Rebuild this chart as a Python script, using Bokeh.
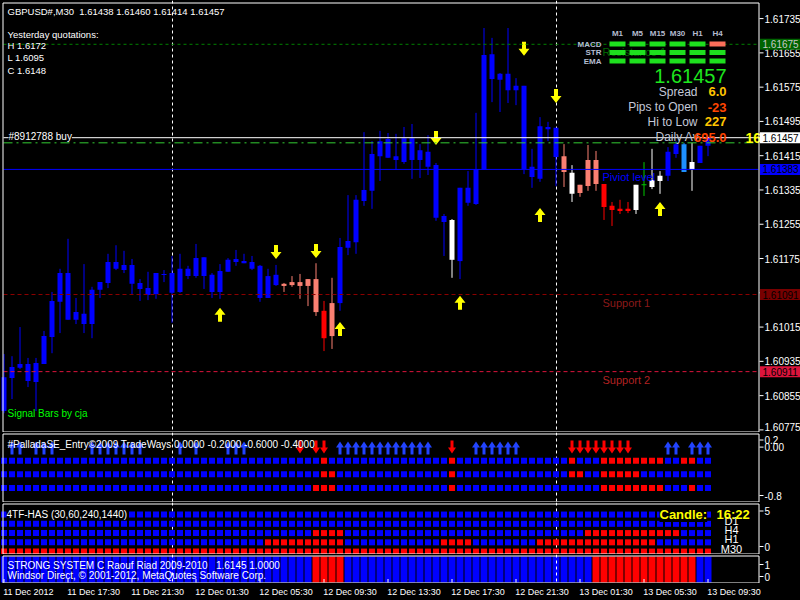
import numpy as np
from bokeh.plotting import figure
from bokeh.models import Range1d, Label, ColumnDataSource
from bokeh.layouts import column
from bokeh.core.properties import value
from bokeh.embed import file_html
from bokeh.resources import INLINE

FONT = "Liberation Sans"

# ------------------------------------------------------------------ data
header_text = "GBPUSD#,M30\u00a0\u00a01.61438 1.61460 1.61414 1.61457"
yesterday_lines = ["Yesterday quotations:", "H 1.6172", "L 1.6095", "C 1.6148"]

# GBPUSD M30 candles, 11 Dec 2012 13:30 .. 13 Dec 2012 09:30
opens = [1.60819, 1.60896, 1.60920, 1.60929, 1.60887, 1.60929, 1.60992, 1.61074, 1.61141, 1.61032,
         1.61046, 1.61022, 1.61102, 1.61118, 1.61167, 1.61148, 1.61160, 1.61118, 1.61106, 1.61092,
         1.61137, 1.61141, 1.61097, 1.61151, 1.61134, 1.61178, 1.61137, 1.61097, 1.61144, 1.61167,
         1.61169, 1.61167, 1.61158, 1.61083, 1.61137, 1.61111, 1.61113, 1.61120, 1.61111, 1.61127,
         1.61053, 1.60994, 1.61071, 1.61200, 1.61213, 1.61309, 1.61333, 1.61414, 1.61454, 1.61414,
         1.61400, 1.61456, 1.61405, 1.61424, 1.61393, 1.61274, 1.61265, 1.61169, 1.61340, 1.61302,
         1.61382, 1.61652, 1.61592, 1.61606, 1.61568, 1.61578, 1.61389, 1.61361, 1.61482, 1.61480,
         1.61414, 1.61375, 1.61328, 1.61344, 1.61405, 1.61349, 1.61298, 1.61291, 1.61286, 1.61288,
         1.61347, 1.61342, 1.61356, 1.61368, 1.61419, 1.61442, 1.61382, 1.61398, 1.61438]
highs = [1.60952, 1.60947, 1.61015, 1.60943, 1.60943, 1.61006, 1.61097, 1.61151, 1.61221, 1.61083,
         1.61162, 1.61109, 1.61120, 1.61186, 1.61206, 1.61193, 1.61174, 1.61127, 1.61144, 1.61141,
         1.61148, 1.61181, 1.61186, 1.61158, 1.61209, 1.61178, 1.61141, 1.61162, 1.61176, 1.61195,
         1.61186, 1.61181, 1.61160, 1.61151, 1.61160, 1.61118, 1.61134, 1.61139, 1.61127, 1.61164,
         1.61076, 1.61130, 1.61223, 1.61323, 1.61323, 1.61470, 1.61449, 1.61473, 1.61468, 1.61466,
         1.61482, 1.61489, 1.61442, 1.61463, 1.61398, 1.61279, 1.61267, 1.61340, 1.61379, 1.61515,
         1.61713, 1.61690, 1.61608, 1.61713, 1.61596, 1.61578, 1.61431, 1.61505, 1.61494, 1.61480,
         1.61442, 1.61393, 1.61347, 1.61440, 1.61426, 1.61349, 1.61307, 1.61312, 1.61307, 1.61347,
         1.61400, 1.61431, 1.61379, 1.61435, 1.61449, 1.61445, 1.61445, 1.61438, 1.61460]
lows = [1.60814, 1.60847, 1.60917, 1.60875, 1.60819, 1.60929, 1.60954, 1.61001, 1.61032, 1.61022,
        1.61001, 1.60989, 1.61083, 1.61106, 1.61148, 1.61141, 1.61092, 1.61076, 1.61078, 1.61081,
        1.61120, 1.61025, 1.61095, 1.61127, 1.61130, 1.61104, 1.61083, 1.61081, 1.61144, 1.61158,
        1.61164, 1.61148, 1.61074, 1.61083, 1.61111, 1.61097, 1.61109, 1.61081, 1.61064, 1.61041,
        1.60959, 1.60964, 1.61053, 1.61183, 1.61186, 1.61298, 1.61291, 1.61356, 1.61410, 1.61382,
        1.61396, 1.61361, 1.61363, 1.61370, 1.61263, 1.61181, 1.61130, 1.61127, 1.61298, 1.61300,
        1.61382, 1.61540, 1.61517, 1.61538, 1.61533, 1.61372, 1.61340, 1.61354, 1.61449, 1.61344,
        1.61342, 1.61307, 1.61319, 1.61333, 1.61333, 1.61265, 1.61251, 1.61279, 1.61281, 1.61279,
        1.61321, 1.61337, 1.61326, 1.61356, 1.61410, 1.61377, 1.61333, 1.61398, 1.61414]
closes = [1.60898, 1.60922, 1.60929, 1.60889, 1.60931, 1.60994, 1.61076, 1.61141, 1.61032, 1.61050,
          1.61022, 1.61102, 1.61120, 1.61167, 1.61151, 1.61160, 1.61116, 1.61104, 1.61090, 1.61141,
          1.61139, 1.61095, 1.61151, 1.61134, 1.61176, 1.61134, 1.61097, 1.61146, 1.61172, 1.61174,
          1.61164, 1.61151, 1.61083, 1.61134, 1.61113, 1.61116, 1.61120, 1.61111, 1.61127, 1.61050,
          1.60989, 1.61071, 1.61202, 1.61216, 1.61312, 1.61335, 1.61419, 1.61449, 1.61410, 1.61405,
          1.61456, 1.61405, 1.61428, 1.61389, 1.61270, 1.61260, 1.61172, 1.61340, 1.61305, 1.61384,
          1.61650, 1.61594, 1.61606, 1.61568, 1.61578, 1.61384, 1.61365, 1.61484, 1.61477, 1.61412,
          1.61377, 1.61326, 1.61347, 1.61405, 1.61349, 1.61295, 1.61288, 1.61286, 1.61291, 1.61347,
          1.61347, 1.61358, 1.61368, 1.61424, 1.61442, 1.61377, 1.61400, 1.61438, 1.61457]

# Signal Bars colouring per candle: U=trend up, S=weak, R=down, W=neutral, G=doji, L=strong
signal_bars = ("U" * 35 + "SSSSS" + "R" + "S" + "U" * 14 + "W" + "U" * 13 +
               "S" + "W" + "SSS" + "RRRR" + "W" + "G" + "WW" + "UU" + "L" + "W" + "UU")
signal_colors = {"U": "#0000FF", "S": "#FA8072", "R": "#FF0000",
                 "W": "#FFFFFF", "G": "#00C800", "L": "#1E90FF"}

# yellow signal arrows (bar index, arrow tip price)
up_arrow_bars = [27, 42, 57, 67, 82]
up_arrow_tips = [1.61060, 1.61027, 1.61088, 1.61293, 1.61307]
down_arrow_bars = [34, 39, 54, 65, 69]
down_arrow_tips = [1.61174, 1.61176, 1.61440, 1.61648, 1.61538]

# horizontal price levels
level_names = ["Resistance 1", "Piviot level", "Support 1", "Support 2"]
level_prices = [1.61675, 1.61383, 1.61091, 1.60911]
bid_price = 1.61457
order_price = 1.61445
order_label = "#8912788 buy"

# dashboard
dash_timeframes = ["M1", "M5", "M15", "M30", "H1", "H4"]
dash_rows = ["MACD", "STR", "EMA"]
dash_states = [[1, 1, 1, 1, 1, 0],
               [1, 1, 1, 1, 1, 1],
               [1, 1, 1, 1, 1, 1]]
spread = 6.0
pips_to_open = -23
hi_to_low = 227
daily_avg = 695.0
candle_timer = "16:22"

# PalladaSE_Entry
pallada_up_bars = [1, 2, 4, 5, 6, 11, 12, 13, 14, 15, 16, 17, 22, 24, 28, 29, 30,
                   42, 43, 44, 45, 46, 47, 48, 49, 50, 51, 52, 53,
                   59, 60, 61, 62, 63, 64, 83, 84, 86, 87, 88]
pallada_down_bars = [37, 39, 40, 56, 71, 72, 73, 74, 75, 76, 77, 78]
pallada_levels = [-0.2, -0.4, -0.6]
pallada_red = [[40, 56, 71, 75, 76, 77, 78, 79, 80, 81, 82, 85, 86],
               [40, 41, 56, 71, 72, 75, 76, 77, 78, 79],
               [39, 40, 41, 56, 75, 76, 77, 78, 79, 80, 81, 82, 86]]

# 4TF-HAS rows (top to bottom)
has_levels = [4, 3, 2, 1, 0]
has_red = [[],
           [],
           [39, 40, 41, 42, 73, 74, 75, 76, 77, 78, 79, 80, 81, 82, 83, 84],
           [33, 34, 35, 36, 37, 38, 39, 40, 41, 42, 55, 56, 57, 58,
            67, 68, 69, 70, 71, 72, 73, 74, 75, 76, 77, 78, 79, 80, 81],
           list(range(89))]
has_tf_labels = ["D1", "H4", "H1", "M30"]

# STRONG SYSTEM state bars (red = short)
strong_red = [39, 40, 41, 42, 74, 75, 76, 77, 78, 79, 80, 81, 82, 83, 84, 85, 86]
strong_axis = [("1", 1), ("0", 0)]

day_breaks = [21, 69]
time_tick_bars = [0, 8, 16, 24, 32, 40, 48, 56, 64, 72, 80, 88]
time_labels = ["11 Dec 2012", "11 Dec 17:30", "11 Dec 21:30", "12 Dec 01:30",
               "12 Dec 05:30", "12 Dec 09:30", "12 Dec 13:30", "12 Dec 17:30",
               "12 Dec 21:30", "13 Dec 01:30", "13 Dec 05:30", "13 Dec 09:30"]
price_ticks = [1.61735, 1.61655, 1.61575, 1.61495, 1.61415, 1.61335, 1.61255,
               1.61175, 1.61095, 1.61015, 1.60935, 1.60855, 1.60775]

# ------------------------------------------------------------------ layout helpers
N = len(opens)
bars = np.arange(N)
PX_PER_BAR = 8.0
BAR0_PX = 3.5
xr = Range1d(-BAR0_PX / PX_PER_BAR, (800 - BAR0_PX) / PX_PER_BAR)
AXIS_PX = 758.5        # price scale line
PANEL_L_PX = 2.5


def fx(px):
    """window column -> bar coordinate"""
    return (px - BAR0_PX) / PX_PER_BAR


def linear(anchor_val, anchor_py, px_per_unit):
    return lambda py: anchor_val + (anchor_py - py) / px_per_unit


def make_fig(top_py, bottom_py, val, separators=True):
    p = figure(width=800, height=bottom_py - top_py, x_range=xr,
               y_range=Range1d(val(bottom_py), val(top_py)),
               output_backend="svg", toolbar_location=None, min_border=0,
               background_fill_color="black", border_fill_color="black",
               outline_line_color=None, x_axis_location=None, y_axis_location=None)
    p.grid.visible = False
    if separators:
        p.vspan(x=day_breaks, line_color="white", line_width=1, line_dash="3 3")
    return p


def border(p, val, top_row, bottom_row):
    p.quad(left=fx(PANEL_L_PX), right=fx(AXIS_PX), top=val(top_row + 0.5),
           bottom=val(bottom_row + 0.5), fill_color=None, line_color="white", line_width=1)


def txt(p, px, y, s, color, size="10px", align="left", style="normal"):
    p.text(x=[fx(px)], y=[y], text=[s], text_color=color, text_font=value(FONT),
           text_font_size=size, text_align=align, text_baseline="middle",
           text_font_style=style)


def scale_labels(p, items):
    """tick marks on the price scale line plus their labels"""
    ys = [v for _, v in items]
    p.segment(x0=[fx(759)] * len(ys), x1=[fx(763)] * len(ys), y0=ys, y1=ys,
              line_color="white", line_width=1)
    p.text(x=[fx(764)] * len(ys), y=ys, text=[s for s, _ in items], text_color="white",
           text_font=value(FONT), text_font_size="10px", text_baseline="middle")


def arrow_polys(bar_list, tips, up, head_w, head_h, shaft_w, length, per_px):
    shape = [(0, 0), (head_w, head_h), (shaft_w, head_h), (shaft_w, length),
             (-shaft_w, length), (-shaft_w, head_h), (-head_w, head_h)]
    sign = -1 if up else 1
    xs, ys = [], []
    for b, t in zip(bar_list, tips):
        xs.append([b + dx / PX_PER_BAR for dx, dy in shape])
        ys.append([t + sign * dy * per_px for dx, dy in shape])
    return xs, ys


def bg_label(p, px, y, s, color, size="10px", style="normal"):
    p.add_layout(Label(x=fx(px), y=y, text=s, text_color=color, text_font=FONT,
                       text_font_size=size, text_font_style=style,
                       text_baseline="middle", background_fill_color="black"))


# ------------------------------------------------------------------ main chart
PPX1 = 2.334e-5
val1 = linear(1.61675, 43.8, 1 / PPX1)
p1 = make_fig(0, 432, val1)

o = np.array(opens); c = np.array(closes)
top = np.maximum(o, c); bot = np.minimum(o, c)
mid = (top + bot) / 2
thin = (top - bot) < PPX1
top = np.where(thin, mid + PPX1 / 2, top)
bot = np.where(thin, mid - PPX1 / 2, bot)
colors = [signal_colors[s] for s in signal_bars]
csrc = ColumnDataSource(dict(x=bars, h=highs, l=lows, top=top, bot=bot, color=colors))
p1.segment(x0="x", y0="h", x1="x", y1="l", line_color="color", line_width=1, source=csrc)
p1.vbar(x="x", width=5 / PX_PER_BAR, top="top", bottom="bot",
        fill_color="color", line_color=None, source=csrc)

xs, ys = arrow_polys(up_arrow_bars, up_arrow_tips, True, 5.5, 7, 2, 14, PPX1)
p1.patches(xs, ys, fill_color="#FFFF00", line_color=None)
xs, ys = arrow_polys(down_arrow_bars, down_arrow_tips, False, 5.5, 7, 2, 14, PPX1)
p1.patches(xs, ys, fill_color="#FFFF00", line_color=None)

level_line_colors = ["#008000", "#0000FF", "#8B0000", "#DC143C"]
level_line_dash = ["3 3", "solid", "4 3", "4 3"]
level_text_colors = ["#006400", "#0000FF", "#8B1A1A", "#B22222"]
level_box_colors = ["#006400", "#0000FF", "#780000", "#DC143C"]
level_box_text = ["#C8C8C8", "black", "black", "black"]


def hline(price, color, dash="solid"):
    p1.segment(x0=[fx(3)], x1=[fx(758)], y0=[price], y1=[price],
               line_color=color, line_width=1, line_dash=dash)


for pr, lc, ld in zip(level_prices, level_line_colors, level_line_dash):
    hline(pr, lc, ld)
hline(order_price, "#33CC33", "9 4 2 4")
hline(bid_price, "white")

for name, pr, tc in zip(level_names, level_prices, level_text_colors):
    txt(p1, 602, pr - 8 * PPX1, name, tc, size="11px")

# header and yesterday quotations
txt(p1, 7, val1(11), header_text, "white", size="9.5px")
for s, py in zip(yesterday_lines, [33.5, 45, 57, 69.5]):
    txt(p1, 7, val1(py), s, "white", size="9.5px")
txt(p1, 7, val1(413), "Signal Bars by cja", "#00FF00")

# dashboard grid
col_px = [617, 637, 657, 677, 697, 717]
row_py = [43.5, 52, 60.5]
for j, tf in enumerate(dash_timeframes):
    txt(p1, col_px[j], val1(32.5), tf, "#B4BCD0", size="8px", align="center", style="bold")
bx, by, bc = [], [], []
for r, rname in enumerate(dash_rows):
    txt(p1, 601, val1(row_py[r]), rname, "#B4BCD0", size="8px", align="right", style="bold")
    for j in range(len(dash_timeframes)):
        bx.append(fx(col_px[j])); by.append(val1(row_py[r]))
        bc.append("#1EE01E" if dash_states[r][j] else "#FA6E5A")
p1.rect(x=bx, y=by, width=16, height=5, width_units="screen", height_units="screen",
        fill_color=bc, line_color=None)

txt(p1, 726, val1(75.5), f"{bid_price:.5f}", "#1EE61E", size="20px", align="right")
info_labels = ["Spread", "Pips to Open", "Hi to Low", "Daily Av"]
info_values = [f"{spread:.1f}", f"{pips_to_open:d}", f"{hi_to_low:d}", f"{daily_avg:.1f}"]
info_colors = ["#FFC400", "#FF4500", "#FFC400", "#FF4500"]
info_py = [91, 106.5, 121, 136.5]
for lab, val, col, py in zip(info_labels, info_values, info_colors, info_py):
    if lab == "Daily Av":
        txt(p1, 655, val1(py), lab, "#C4C8D8", size="12px")
    else:
        txt(p1, 697, val1(py), lab, "#C4C8D8", size="12px", align="right")
    txt(p1, 726, val1(py), val, col, size="13px", align="right", style="bold")

# candle countdown next to the price, partly under the bid box
txt(p1, 745, bid_price, candle_timer, "#FFFF00", size="14px", style="bold")

border(p1, val1, 2, 431)

# price scale: ticks, labels (lowest one kept inside the panel), coloured level boxes
label_floor = val1(426)
p1.segment(x0=[fx(759)] * len(price_ticks), x1=[fx(763)] * len(price_ticks),
           y0=price_ticks, y1=price_ticks, line_color="white", line_width=1)
p1.text(x=[fx(764)] * len(price_ticks), y=[max(t, label_floor) for t in price_ticks],
        text=[f"{t:.5f}" for t in price_ticks], text_color="white",
        text_font=value(FONT), text_font_size="10px", text_baseline="middle")

box_prices = [level_prices[0], bid_price, level_prices[1], level_prices[2], level_prices[3]]
box_bg = [level_box_colors[0], "white", level_box_colors[1], level_box_colors[2], level_box_colors[3]]
box_fg = [level_box_text[0], "black", level_box_text[1], level_box_text[2], level_box_text[3]]
p1.rect(x=[fx(779.5)] * len(box_prices), y=box_prices, width=40, height=11,
        width_units="screen", height_units="screen", fill_color=box_bg, line_color=None)
p1.text(x=[fx(762)] * len(box_prices), y=box_prices, text=[f"{b:.5f}" for b in box_prices],
        text_color=box_fg, text_font=value(FONT), text_font_size="10px", text_baseline="middle")

bg_label(p1, 8, val1(135.5), order_label, "white")

# ------------------------------------------------------------------ PalladaSE panel
val2 = linear(0.0, 446.6, 68.0)
p2 = make_fig(432, 502, val2)
ppx2 = 1 / 68.0
for lvl, reds in zip(pallada_levels, pallada_red):
    cols = ["#FF0000" if b in reds else "#0000FF" for b in bars]
    p2.rect(x=bars, y=[lvl] * N, width=6, height=6, width_units="screen",
            height_units="screen", fill_color=cols, line_color=None)
xs, ys = arrow_polys(pallada_up_bars, [5.6 * ppx2] * len(pallada_up_bars), True,
                     4, 6, 1.5, 13, ppx2)
p2.patches(xs, ys, fill_color="#2244FF", line_color=None)
xs, ys = arrow_polys(pallada_down_bars, [-6.4 * ppx2] * len(pallada_down_bars), False,
                     4, 6, 1.5, 13, ppx2)
p2.patches(xs, ys, fill_color="#FF0000", line_color=None)
txt(p2, 7, val2(443.5), "#PalladaSE_Entry©2009 TradeWays 0.0000 -0.2000 -0.6000 -0.4000", "white")
border(p2, val2, 433, 501)
# end labels are nudged inside the panel
scale_labels(p2, [("0.2", val2(439.5)), ("0.00", 0.0), ("-0.8", val2(495))])

# ------------------------------------------------------------------ 4TF-HAS panel
val3 = linear(0.0, 551.1, 9.259)
p3 = make_fig(502, 554, val3)
for lvl, reds in zip(has_levels, has_red):
    cols = ["#FF0000" if b in reds else "#0000FF" for b in bars]
    p3.rect(x=bars, y=[lvl] * N, width=6, height=6, width_units="screen",
            height_units="screen", fill_color=cols, line_color=None)
for s, py in zip(has_tf_labels, [520, 529, 538.5, 548]):
    txt(p3, 731, val3(py), s, "white", size="11px", align="center")
txt(p3, 716, val3(514), candle_timer, "#FFFF00", size="13px", style="bold")
border(p3, val3, 503, 553)
scale_labels(p3, [("5", val3(510.5)), ("0", val3(546))])
bg_label(p3, 6, val3(514), "4TF-HAS (30,60,240,1440)", "white")
bg_label(p3, 659, val3(514), "Candle:", "#FFFF00", size="13px", style="bold")

# ------------------------------------------------------------------ STRONG SYSTEM panel
val4 = linear(0.0, 576.0, 12.0)
p4 = make_fig(554, 583, val4, separators=False)
ssrc = ColumnDataSource(dict(x=bars, color=["#FF0000" if b in strong_red else "#0000FF" for b in bars]))
p4.vbar(x="x", width=7 / PX_PER_BAR, top=val4(556), bottom=val4(582),
        fill_color="color", line_color=None, source=ssrc)
p4.vspan(x=day_breaks, line_color="white", line_width=1, line_dash="3 3")
txt(p4, 7, val4(564.5), "STRONG SYSTEM C Raouf Riad 2009-2010\u00a0\u00a0 1.6145 1.0000", "white")
txt(p4, 7, val4(575), "Windsor Direct, © 2001-2012, MetaQuotes Software Corp.", "white")
border(p4, val4, 555, 582)
scale_labels(p4, strong_axis)
# time ticks pointing up from the bottom edge
p4.segment(x0=time_tick_bars, x1=time_tick_bars, y0=[val4(578.5)] * len(time_tick_bars),
           y1=[val4(582)] * len(time_tick_bars), line_color="white", line_width=1)

# ------------------------------------------------------------------ time scale
val5 = linear(0.0, 600.0, 1.0)
p5 = make_fig(583, 600, val5, separators=False)
p5.text(x=[b - 0.1 for b in time_tick_bars], y=[val5(591.5)] * len(time_tick_bars),
        text=time_labels, text_color="white", text_font=value(FONT),
        text_font_size="9px", text_align="left", text_baseline="middle")

p = column(p1, p2, p3, p4, p5, spacing=0, styles={"background-color": "black"})
open("out.html", "w").write(file_html(p, INLINE))
